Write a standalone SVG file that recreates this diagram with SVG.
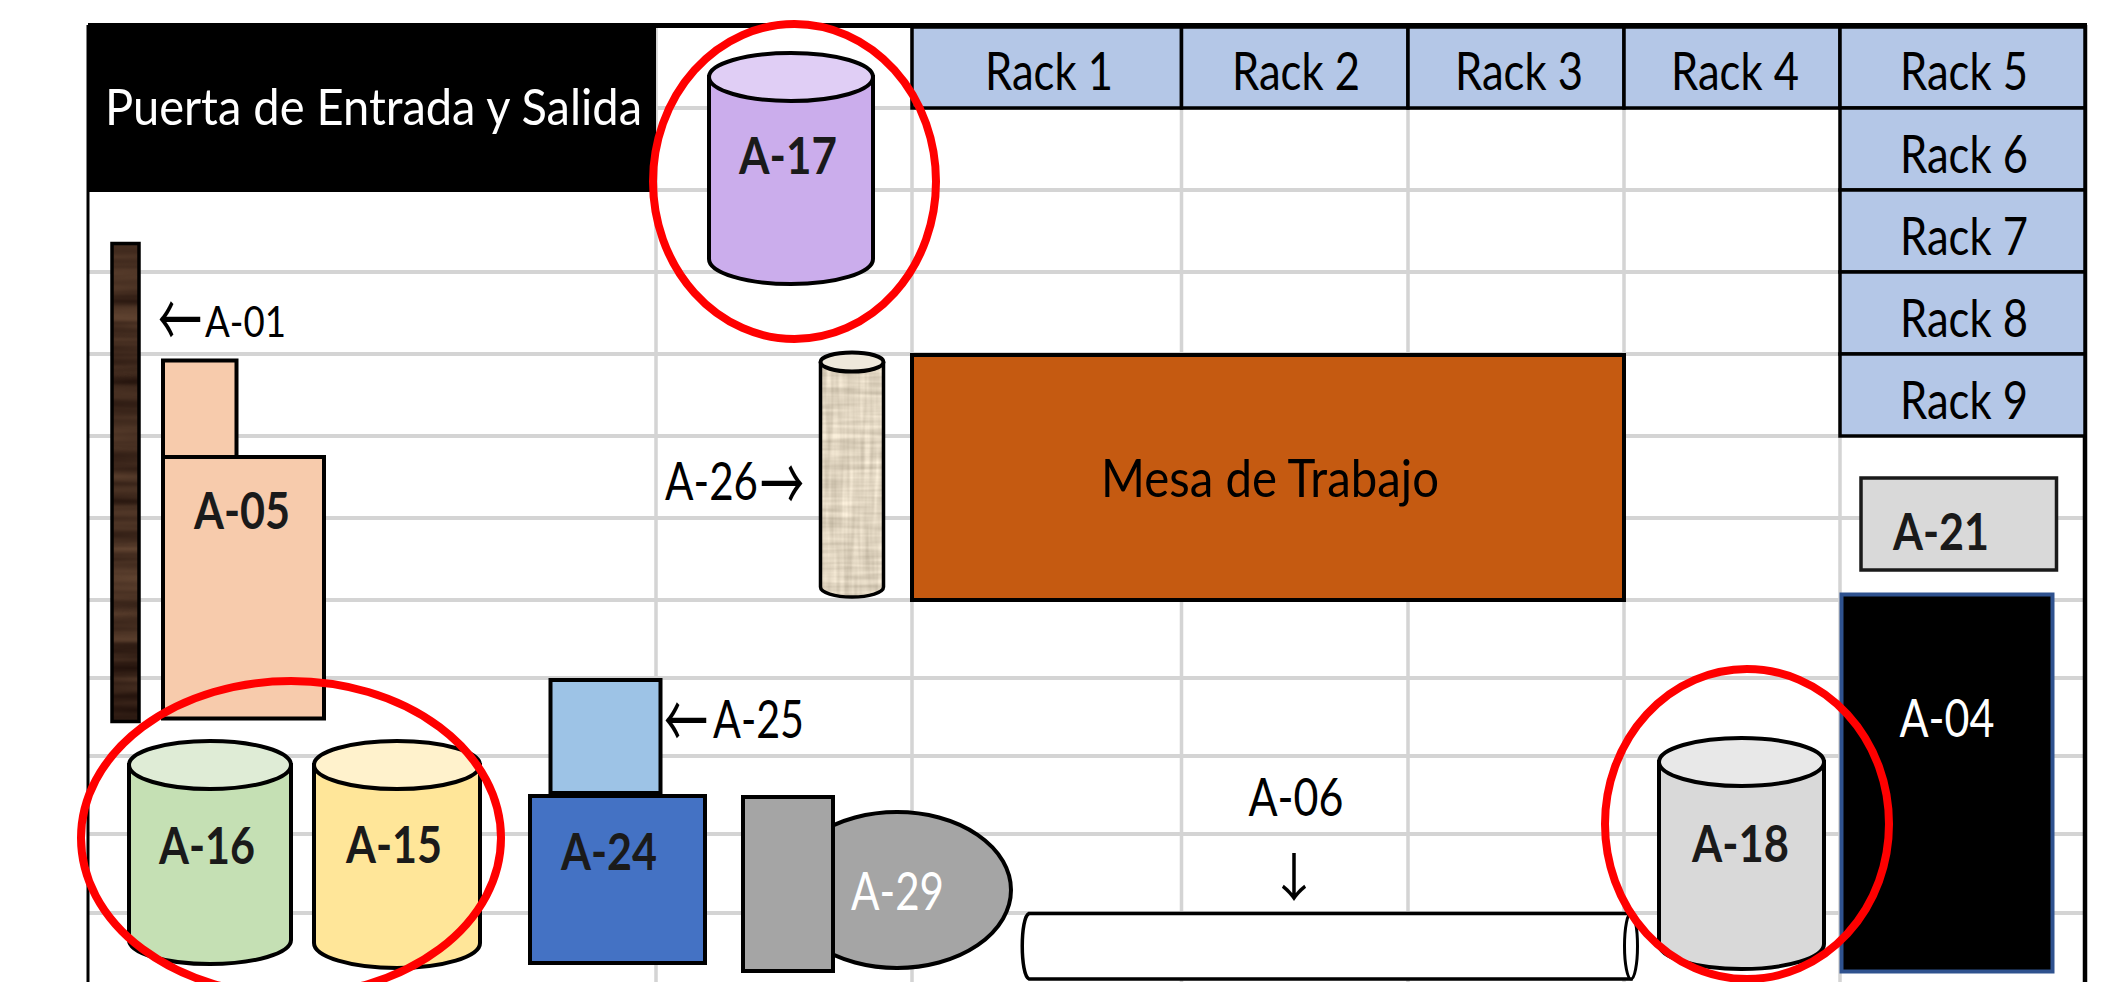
<svg xmlns="http://www.w3.org/2000/svg" width="2110" height="982" viewBox="0 0 2110 982">
<style>
text{font-family:Lato,"Liberation Sans",sans-serif;font-size:52px;fill:#000}
.b{font-weight:700;fill:#1a1a1a}
.w{fill:#fff}
.arr{font-family:"Noto Sans CJK JP","DejaVu Sans",sans-serif;font-size:76px}
.k{stroke:#000;stroke-width:4}
.grid{stroke:#d4d4d4;fill:none}
.red{fill:none;stroke:#f00;stroke-width:8}
.rack{fill:#b4c7e7;stroke:#000;stroke-width:3.5}
</style>
<defs>
<filter id="wood" x="0" y="0" width="1" height="1" color-interpolation-filters="sRGB">
<feTurbulence type="fractalNoise" baseFrequency="0.003 0.06" numOctaves="3" seed="4"/>
<feColorMatrix values="0.4 0 0 0 0.06  0.32 0 0 0 0.01  0.24 0 0 0 0  0 0 0 0 1"/>
<feComposite in2="SourceGraphic" operator="in"/>
</filter>
<filter id="burlap" x="0" y="0" width="1" height="1" color-interpolation-filters="sRGB">
<feTurbulence type="fractalNoise" baseFrequency="0.015 0.2" numOctaves="2" seed="7" result="a"/>
<feColorMatrix in="a" values="1 0 0 0 0  1 0 0 0 0  1 0 0 0 0  0 0 0 0 1" result="a1"/>
<feTurbulence type="fractalNoise" baseFrequency="0.2 0.015" numOctaves="2" seed="11" result="b"/>
<feColorMatrix in="b" values="1 0 0 0 0  1 0 0 0 0  1 0 0 0 0  0 0 0 0 1" result="b1"/>
<feComposite in="a1" in2="b1" operator="arithmetic" k2="0.5" k3="0.5" result="n"/>
<feColorMatrix in="n" values="0.45 0 0 0 0.65  0 0.45 0 0 0.605  0 0 0.45 0 0.525  0 0 0 0 1"/>
<feComposite in2="SourceGraphic" operator="in"/>
</filter>
</defs>
<rect width="2110" height="982" fill="#fff"/>
<g id="grid" class="grid">
<path stroke-width="4" d="M656 108H1840M656 190H1840M88 272H1840M88 354H1840M88 436H1840M88 518H2085M88 600H2085M88 678H2085M88 756H2085M88 834H2085M88 913H2085"/>
<path stroke-width="3.5" d="M656 27V982M912 27V982M1181.5 108V982M1408 108V982M1624 108V982M1840 436V982"/>
</g>
<g id="frame">
<path d="M88 25.5H2087" stroke="#000" stroke-width="5" fill="none"/>
<path d="M88 25V982" stroke="#000" stroke-width="3" fill="none"/>
<path d="M2085 25V982" stroke="#000" stroke-width="4.5" fill="none"/>
</g>
<g id="door">
<rect x="88" y="27" width="568" height="165" fill="#000"/>
<text class="w" x="105" y="125" textLength="537" lengthAdjust="spacingAndGlyphs" style="font-size:51px">Puerta de Entrada y Salida</text>
</g>
<g id="rack-1"><rect class="rack" x="912" y="27" width="269.5" height="81"/><text x="985" y="90" textLength="128" lengthAdjust="spacingAndGlyphs">Rack 1</text></g>
<g id="rack-2"><rect class="rack" x="1181.5" y="27" width="226.5" height="81"/><text x="1232" y="90" textLength="128" lengthAdjust="spacingAndGlyphs">Rack 2</text></g>
<g id="rack-3"><rect class="rack" x="1408" y="27" width="216" height="81"/><text x="1455" y="90" textLength="128" lengthAdjust="spacingAndGlyphs">Rack 3</text></g>
<g id="rack-4"><rect class="rack" x="1624" y="27" width="216" height="81"/><text x="1671" y="90" textLength="128" lengthAdjust="spacingAndGlyphs">Rack 4</text></g>
<g id="rack-5"><rect class="rack" x="1840" y="27" width="245" height="81"/><text x="1900" y="90" textLength="128" lengthAdjust="spacingAndGlyphs">Rack 5</text></g>
<g id="rack-6"><rect class="rack" x="1840" y="108" width="245" height="82"/><text x="1900" y="172.5" textLength="128" lengthAdjust="spacingAndGlyphs">Rack 6</text></g>
<g id="rack-7"><rect class="rack" x="1840" y="190" width="245" height="82"/><text x="1900" y="254.5" textLength="128" lengthAdjust="spacingAndGlyphs">Rack 7</text></g>
<g id="rack-8"><rect class="rack" x="1840" y="272" width="245" height="82"/><text x="1900" y="336.5" textLength="128" lengthAdjust="spacingAndGlyphs">Rack 8</text></g>
<g id="rack-9"><rect class="rack" x="1840" y="354" width="245" height="82"/><text x="1900" y="418.5" textLength="128" lengthAdjust="spacingAndGlyphs">Rack 9</text></g>
<g id="A-01">
<rect x="112" y="243.5" width="27" height="478" fill="#000" filter="url(#wood)"/>
<rect x="112" y="243.5" width="27" height="478" fill="none" stroke="#000" stroke-width="3.5"/>
<text><tspan class="arr" x="158" y="348" textLength="44" lengthAdjust="spacingAndGlyphs">←</tspan><tspan x="205" y="337" textLength="81" lengthAdjust="spacingAndGlyphs" style="font-size:43px">A-01</tspan></text>
</g>
<g id="A-05">
<rect class="k" x="163" y="360.5" width="73.5" height="96.5" fill="#f7cbac"/>
<rect class="k" x="163" y="457" width="161" height="261.5" fill="#f7cbac"/>
<text class="b" x="194" y="529" textLength="96" lengthAdjust="spacingAndGlyphs">A-05</text>
</g>
<g id="A-26">
<path d="M820.5 362V587A31.5 10 0 0 0 883.5 587V362Z" fill="#000" filter="url(#burlap)"/>
<path d="M820.5 362V587A31.5 10 0 0 0 883.5 587V362" fill="none" stroke="#000" stroke-width="3.5"/>
<ellipse class="k" cx="852" cy="362" rx="31.5" ry="9.5" fill="#eee8db"/>
<text><tspan x="665" y="500" textLength="93" lengthAdjust="spacingAndGlyphs">A-26</tspan><tspan class="arr" x="760" y="512" textLength="44" lengthAdjust="spacingAndGlyphs">→</tspan></text>
</g>
<g id="mesa">
<rect class="k" x="912" y="355" width="712" height="245" fill="#c55a11"/>
<text x="1101" y="497" textLength="338" lengthAdjust="spacingAndGlyphs">Mesa de Trabajo</text>
</g>
<g id="A-21">
<rect x="1861" y="478" width="195.5" height="92" fill="#d9d9d9" stroke="#1a1a1a" stroke-width="3.5"/>
<text class="b" x="1893" y="550" textLength="96" lengthAdjust="spacingAndGlyphs">A-21</text>
</g>
<g id="A-04">
<rect x="1841.5" y="594.5" width="211" height="377" fill="#000" stroke="#2f528f" stroke-width="4"/>
<text class="w" x="1899.5" y="737" textLength="95" lengthAdjust="spacingAndGlyphs">A-04</text>
</g>
<g id="A-06">
<path d="M1029 913.5H1631V979H1029C1020 975 1020 917 1029 913.5Z" fill="#fff" stroke="#000" stroke-width="3.5"/>
<ellipse cx="1631" cy="946" rx="6.5" ry="33" fill="#fff" stroke="#000" stroke-width="3"/>
<text x="1248.5" y="816" textLength="95" lengthAdjust="spacingAndGlyphs">A-06</text>
<text class="arr" x="1294" y="897" text-anchor="middle" style="font-size:52px">↓</text>
</g>
<g id="A-29">
<ellipse class="k" cx="897" cy="890" rx="114" ry="78" fill="#a5a5a5"/>
<rect class="k" x="743" y="797" width="90" height="174" fill="#a5a5a5"/>
<text class="w" x="851" y="910" textLength="93" lengthAdjust="spacingAndGlyphs">A-29</text>
</g>
<g id="A-25">
<rect class="k" x="550.5" y="680" width="110" height="113" fill="#9dc3e6"/>
<text><tspan class="arr" x="664" y="748.5" textLength="44" lengthAdjust="spacingAndGlyphs">←</tspan><tspan x="713" y="738" textLength="91" lengthAdjust="spacingAndGlyphs">A-25</tspan></text>
</g>
<g id="A-24">
<rect class="k" x="530" y="796" width="175" height="167" fill="#4472c4"/>
<text class="b" x="561" y="870" textLength="96" lengthAdjust="spacingAndGlyphs">A-24</text>
</g>
<g id="A-17">
<path class="k" d="M709 77V259A82 25 0 0 0 873 259V77Z" fill="#cbadec"/>
<ellipse class="k" cx="791" cy="77" rx="82" ry="24" fill="#e0cef5"/>
<text class="b" x="739" y="174" textLength="98" lengthAdjust="spacingAndGlyphs">A-17</text>
</g>
<g id="A-16">
<path class="k" d="M129 765V940A81 24 0 0 0 291 940V765Z" fill="#c5e0b4"/>
<ellipse class="k" cx="210" cy="765" rx="81" ry="24" fill="#dfecd6"/>
<text class="b" x="159" y="864" textLength="96" lengthAdjust="spacingAndGlyphs">A-16</text>
</g>
<g id="A-15">
<path class="k" d="M314 765V943A83 25 0 0 0 480 943V765Z" fill="#ffe699"/>
<ellipse class="k" cx="397" cy="765" rx="83" ry="24" fill="#fff2cc"/>
<text class="b" x="346" y="863" textLength="96" lengthAdjust="spacingAndGlyphs">A-15</text>
</g>
<g id="A-18">
<path class="k" d="M1659 762V944A82.5 25 0 0 0 1824 944V762Z" fill="#d9d9d9"/>
<ellipse class="k" cx="1741.5" cy="762" rx="82.5" ry="24" fill="#e8e8e8"/>
<text class="b" x="1692" y="862" textLength="97" lengthAdjust="spacingAndGlyphs">A-18</text>
</g>
<g id="highlights">
<ellipse class="red" cx="794.5" cy="181.5" rx="141.5" ry="157.5"/>
<ellipse class="red" cx="291" cy="838" rx="210" ry="157"/>
<ellipse class="red" cx="1747" cy="824" rx="142" ry="155"/>
</g>
</svg>
